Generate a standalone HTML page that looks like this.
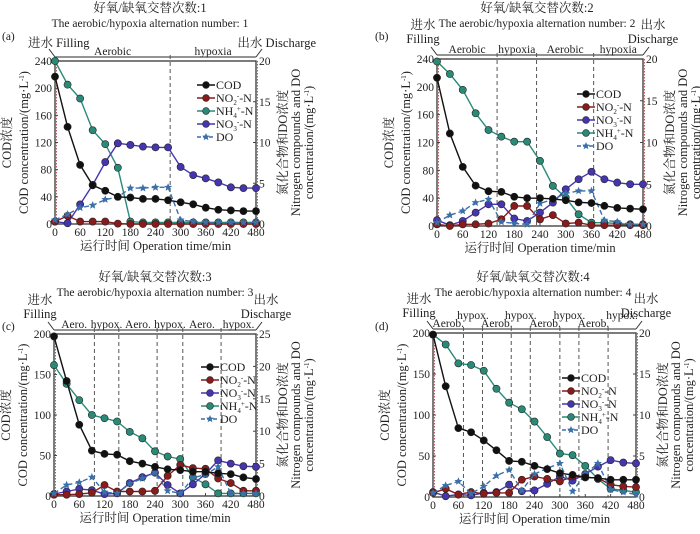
<!DOCTYPE html>
<html><head><meta charset="utf-8">
<style>
body{margin:0;background:#fff;width:700px;height:529px;overflow:hidden}
svg text{font-family:"Liberation Serif","Noto Serif CJK SC",serif;fill:#222}
</style></head>
<body>
<svg id="chart" width="700" height="529" viewBox="0 0 700 529" xmlns="http://www.w3.org/2000/svg"></svg>
<script>
const timePoints=[0,30,60,90,120,150,180,210,240,270,300,330,360,390,420,450,480];
const xTicks=[0,60,120,180,240,300,360,420,480];
// Panel a
const codA=[217,143,87,57,49,40,39,37,37,35,32,29,24,21,20,19,19];
const no2A=[0.3,1.0,0.3,0.3,0.3,0.05,0,0,0,0,0,0,0,0,0,0,0];
const nh4A=[20,17.1,15.4,11.5,9.8,6.9,0.3,0.2,0.2,0.2,0.2,0.2,0.2,0.2,0.2,0.2,0.2];
const no3A=[0.3,0.1,2.4,4.8,7.6,9.9,9.7,9.5,9.4,9.4,7,6,5.6,5.1,4.5,4.4,4.4];
const doA=[0.5,1.2,2,2.3,3,3.3,4.4,4.4,4.5,4.5,0.5,0.3,0.2,0.2,0.2,0.2,0.2];
// Panel b
const codB=[213,133,85,58,50,49,42,40,40,39,37,34,33,29,26,25,24];
const no2B=[0.2,0,0.2,0.2,0.3,0.8,2.4,2.4,0.8,1.3,0.3,0.4,0.1,0.1,0.1,0.1,0.1];
const no3B=[0.7,0.1,0.6,1.6,2.6,2.6,0.9,0.6,1.6,2.8,4.4,5.6,6.5,5.6,5.2,5,5];
const nh4B=[19.7,18.2,16.3,13.5,11.5,10.7,10.1,10.1,7.8,4.8,3.4,1.4,0.4,0.4,0.3,0.2,0.2];
const doB=[0.4,1.3,1.8,2.8,3.2,0.5,0.3,0.2,2.7,3.2,3.9,4.2,4.2,0.7,0.5,0.2,0.2];
// Panel c
const codC=[197,142,88,56,52,51,43,40,36,33,32,30,30,28,27,23,21];
const no2C=[0.2,0.2,0.3,0.5,1.7,0.7,0.7,0.7,0.8,3.1,4.8,4.3,4.2,2.7,2,0.8,0.8];
const no3C=[0.3,0.7,1.1,0.9,0.3,0.4,2,2.9,3.6,1.7,0.4,1.8,3.4,5.5,5,4.6,4.5];
const nh4C=[20.2,17.3,14.8,12.5,12,11.5,9.9,8.9,6.9,6.1,5.7,2.9,1.8,0.4,0.4,0.4,0.4];
const doC=[0.4,1.7,2.1,2.9,0.6,0.4,1.9,2.7,3.6,0.8,0.4,2.8,3.3,4.5,0.4,0.4,0.4];
// Panel d
const codD=[198,135,84,79,69,57,44,43,38,34,29,27,24,23,21,21,21];
const no2D=[0.5,1,0.3,0.6,0.4,0.5,0.5,2.1,2.5,2.2,1.9,2.5,2.4,2.3,1.5,1.3,1.2];
const no3D=[0.6,0.1,0.3,0.2,0.5,0.6,1.5,0.7,0.8,1.6,2.5,2.0,2.8,3.7,4.5,4.2,4.1];
const nh4D=[19.8,18.6,16.3,16.1,15.4,13.2,11.5,10.7,9.2,7.3,5.3,5.1,3.8,2.2,1,0.8,0.6];
const doD=[0.5,1.4,1.9,0.4,1.3,2.6,3.3,0.8,2.8,3.5,4.1,0.7,2.8,4.1,0.9,0.6,0.3];
const phasesA=[275];
const phasesB=[140,232,365];
const phasesC=[96,154,245,306,397];
const phasesD=[72,117,185,230,300,345,414];

const C={cod:'#111',no2:'#8b1a1a',nh4:'#2a8a78',no3:'#4536b0',do:'#3a6fa8'};
const svg=document.getElementById('chart');
const NS='http://www.w3.org/2000/svg';
function el(tag,attrs,parent){const e=document.createElementNS(NS,tag);for(const k in attrs)e.setAttribute(k,attrs[k]);(parent||svg).appendChild(e);return e;}
function txt(s,x,y,size,anchor,parent,rot){const t=el('text',{x:x,y:y,'font-size':size,'text-anchor':anchor||'start'},parent);if(rot)t.setAttribute('transform','rotate(-90 '+x+' '+y+')');t.innerHTML=s;return t;}
function star(x,y,r,g){let p='';for(let i=0;i<10;i++){const a=-Math.PI/2+i*Math.PI/5;const rr=i%2?r*0.45:r;p+=(i?'L':'M')+(x+rr*Math.cos(a)).toFixed(1)+' '+(y+rr*Math.sin(a)).toFixed(1);}return el('path',{d:p+'Z',fill:C.do},g);}

function panel(o){
  const g=el('g',{});
  
  
  const xs=t=>o.x0+t/480*(o.x1-o.x0);
  const yl=v=>o.yb-v/o.lmax*(o.yb-o.yt);
  const yr=v=>o.yb-v/o.rmax*(o.yb-o.yt);
  const t1=txt(o.t1,o.cx,o.ty,12.5,'middle',g);
  const t2=txt('The aerobic/hypoxia alternation number: '+o.n,o.cx,o.ty+15,11.5,'middle',g);
  const lab=txt('('+o.id+')',o.labx,o.laby,11.5,'start',g);
  if(o.twoLine){
    txt('进水',o.x0-14,o.yt-30,12.5,'middle',g);txt('Filling',o.x0-14,o.yt-16,12.5,'middle',g);
    txt('出水',o.x1+10,o.yt-30,12.5,'middle',g);txt('Discharge',o.x1+10,o.yt-16,12.5,'middle',g);
  }else{
    const f=txt('进水 Filling',o.x0-27,o.yt-14,12.5,'start',g);
    const d=txt('出水 Discharge',o.x1+60,o.yt-14,12.5,'end',g);
  }
  el('line',{x1:o.x0-6,y1:o.yt-12,x2:o.x0,y2:o.yt-4,stroke:'#333','stroke-width':1},g);
  el('line',{x1:o.x1+6,y1:o.yt-12,x2:o.x1,y2:o.yt-4,stroke:'#333','stroke-width':1},g);
  el('line',{x1:o.x0,y1:o.yt-4,x2:o.x1,y2:o.yt-4,stroke:'#555','stroke-width':1.2},g);
  const bounds=[0].concat(o.phases).concat([480]);
  for(let i=0;i<bounds.length-1;i++){
    const mid=(xs(bounds[i])+xs(bounds[i+1]))/2;
    const name=o.names[i%o.names.length];
    const raised=o.raise&&(i%2===1);
    txt(name,mid,raised?o.yt-14:o.yt-6,11.5,'middle',g);
  }
  o.phases.forEach(p=>{
    const ph=el('line',{x1:xs(p),y1:o.yt-6,x2:xs(p),y2:o.yb,stroke:'#555','stroke-width':1,'stroke-dasharray':'4,3'},g);
    
    
  });
  [0,480].forEach(p=>el('line',{x1:xs(p)+1.5,y1:o.yt,x2:xs(p)+1.5,y2:o.yb,stroke:'#b06060','stroke-width':1,'stroke-dasharray':'1.5,1.5'},g));
  el('rect',{x:o.x0,y:o.yt,width:o.x1-o.x0,height:o.yb-o.yt,fill:'none',stroke:'#444','stroke-width':1.4},g);
  xTicks.forEach(t=>{el('line',{x1:xs(t),y1:o.yb,x2:xs(t),y2:o.yb-3,stroke:'#444'},g);txt(t,xs(t),o.yb+12,11.5,'middle',g);});
  o.lticks.forEach(v=>{el('line',{x1:o.x0,y1:yl(v),x2:o.x0+3,y2:yl(v),stroke:'#444'},g);txt(v,o.x0-3,yl(v)+4,11.5,'end',g);});
  o.rticks.forEach(v=>{el('line',{x1:o.x1,y1:yr(v),x2:o.x1-3,y2:yr(v),stroke:'#444'},g);txt(v,o.x1+3,yr(v)+4,11.5,'start',g);});
  const xl=txt('运行时间 Operation time/min',(o.x0+o.x1)/2,o.yb+26,12.5,'middle',g);
  const mid=(o.yt+o.yb)/2;
  const y1=txt('COD浓度',o.x0-44,mid,12.5,'middle',g,true);
  txt('COD concentration/(mg·L<tspan font-size="7" dy="-4">-1</tspan><tspan dy="4">)</tspan>',o.x0-27,mid,12.5,'middle',g,true);
  const y2=txt('氮化合物和DO浓度',o.x1+31,mid,12.5,'middle',g,true);
  txt('Nitrogen compounds and DO',o.x1+44,mid,12.5,'middle',g,true);
  txt('concentration/(mg·L<tspan font-size="7" dy="-4">-1</tspan><tspan dy="4">)</tspan>',o.x1+57,mid,12.5,'middle',g,true);
  const series={cod:[o.cod,yl],no2:[o.no2,yr],nh4:[o.nh4,yr],no3:[o.no3,yr],do:[o.do,yr]};
  ['nh4','no3','no2','do','cod'].forEach(k=>{
    const [vals,sc]=series[k];
    const pts=vals.map((v,i)=>xs(timePoints[i]).toFixed(1)+','+sc(v).toFixed(1)).join(' ');
    const pl=el('polyline',{points:pts,fill:'none',stroke:C[k],'stroke-width':1.4},g);
    if(k==='do')pl.setAttribute('stroke-dasharray','5,3');
    
    
    vals.forEach((v,i)=>{
      let m;
      if(k==='do')m=star(xs(timePoints[i]),sc(v),4.2,g);
      else m=el('circle',{cx:xs(timePoints[i]),cy:sc(v),r:3.6,fill:C[k],stroke:'#222','stroke-width':0.6},g);
      
      
    });
  });
  const lg=el('g',{},g);
  
  
  const labels={cod:'COD',no2:'NO<tspan font-size="7" dy="3">2</tspan><tspan font-size="7" dy="-7">-</tspan><tspan dy="4">-N</tspan>',no3:'NO<tspan font-size="7" dy="3">3</tspan><tspan font-size="7" dy="-7">-</tspan><tspan dy="4">-N</tspan>',nh4:'NH<tspan font-size="7" dy="3">4</tspan><tspan font-size="7" dy="-7">+</tspan><tspan dy="4">-N</tspan>',do:'DO'};
  o.legOrder.forEach((k,i)=>{
    const y=o.ly+i*13;
    const li=el('line',{x1:o.lx,y1:y,x2:o.lx+18,y2:y,stroke:C[k],'stroke-width':1.4},lg);
    if(k==='do'){li.setAttribute('stroke-dasharray','4,2');star(o.lx+9,y,4,lg);}
    else el('circle',{cx:o.lx+9,cy:y,r:3.4,fill:C[k],stroke:'#222','stroke-width':0.6},lg);
    const t=txt(labels[k],o.lx+19,y+4,12,'start',lg);
    
    
  });
}
panel({id:'a',n:1,t1:'好氧/缺氧交替次数:1',cx:150,ty:12,labx:2,laby:40,x0:55,x1:256,yt:61,yb:224,lmax:240,rmax:20,lticks:[0,40,80,120,160,200,240],rticks:[0,5,10,15,20],phases:phasesA,names:['Aerobic','hypoxia'],cod:codA,no2:no2A,nh4:nh4A,no3:no3A,do:doA,lx:197,ly:85,legOrder:['cod','no2','nh4','no3','do']});
panel({id:'b',n:2,t1:'好氧/缺氧交替次数:2',cx:537,ty:12,labx:375,laby:40,x0:437,x1:643,yt:59,yb:226,lmax:240,rmax:20,lticks:[0,40,80,120,160,200,240],rticks:[0,5,10,15,20],phases:phasesB,names:['Aerobic','hypoxia'],cod:codB,no2:no2B,nh4:nh4B,no3:no3B,do:doB,lx:577,ly:94,legOrder:['cod','no2','no3','nh4','do'],twoLine:true});
panel({id:'c',n:3,t1:'好氧/缺氧交替次数:3',cx:155,ty:281,labx:2,laby:330,x0:54,x1:256,yt:334,yb:496,lmax:200,rmax:25,lticks:[0,50,100,150,200],rticks:[0,5,10,15,20,25],phases:phasesC,names:['Aero.','hypox.'],cod:codC,no2:no2C,nh4:nh4C,no3:no3C,do:doC,lx:201,ly:367,legOrder:['cod','no2','no3','nh4','do'],twoLine:true});
panel({id:'d',n:4,t1:'好氧/缺氧交替次数:4',cx:533,ty:281,labx:375,laby:330,x0:433,x1:636,yt:333,yb:497,lmax:200,rmax:20,lticks:[0,50,100,150,200],rticks:[0,5,10,15,20],phases:phasesD,names:['Aerob.','hypox.'],raise:true,cod:codD,no2:no2D,nh4:nh4D,no3:no3D,do:doD,lx:562,ly:378,legOrder:['cod','no2','no3','nh4','do'],twoLine:true});
</script>
</body></html>
